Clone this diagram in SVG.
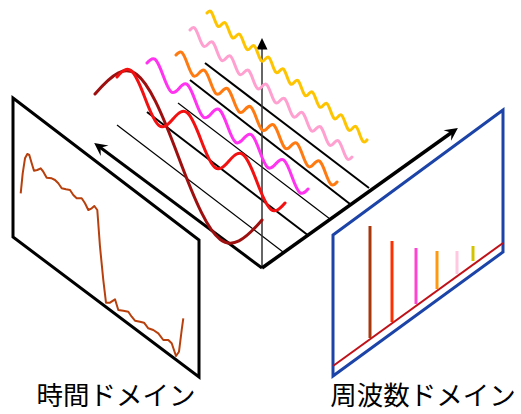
<svg xmlns="http://www.w3.org/2000/svg" width="521" height="414" viewBox="0 0 521 414">
<style>
.grid{stroke:#000;fill:none}
.thin{stroke-width:1.2}
.thick{stroke-width:2}
.wave{fill:none;stroke-width:3;stroke-linejoin:round;stroke-linecap:round}
.bar{stroke-width:3;fill:none}
.lbl{font-family:"Noto Sans CJK JP","Noto Sans",sans-serif;font-size:26.5px;fill:#000}
</style>
<defs>
<marker id="barb" viewBox="-14 -7 15 14" markerWidth="15" markerHeight="14" refX="-6" refY="0" orient="auto" markerUnits="userSpaceOnUse">
<path d="M0,0 L-13,-6.5 L-8,0 L-13,6.5 Z" fill="#000"/>
</marker>
</defs>
<rect width="521" height="414" fill="#fff"/>
<g id="connectors">
<line class="grid thin" x1="117" y1="125" x2="283" y2="252"/>
<line class="grid thick" x1="147" y1="112" x2="309" y2="236"/>
<line class="grid thin" x1="178" y1="103" x2="330" y2="219"/>
<line class="grid thick" x1="190" y1="80" x2="350" y2="204"/>
<line class="grid thick" x1="205" y1="63" x2="369" y2="188"/>
<line x1="262" y1="268" x2="262" y2="49" stroke="#333" stroke-width="1.5"/>
<polygon points="262,38 256.5,49.5 267.5,49.5" fill="#000"/>
<line x1="262" y1="268" x2="99" y2="146.5" stroke="#000" stroke-width="3" marker-end="url(#barb)"/>
<line x1="262" y1="268" x2="453" y2="131.5" stroke="#000" stroke-width="3.5" marker-end="url(#barb)"/>
</g>
<g id="waves">
<path class="wave" stroke="#ffc400" d="M207,13 c3.09,-3.68 4.19,-2.81 7.27,5.77 s4.19,9.45 7.27,5.77 s4.19,-2.81 7.27,5.77 s4.19,9.45 7.27,5.77 s4.19,-2.81 7.27,5.77 s4.19,9.45 7.27,5.77 s4.19,-2.81 7.27,5.77 s4.19,9.45 7.27,5.77 s4.19,-2.81 7.27,5.77 s4.19,9.45 7.27,5.77 s4.19,-2.81 7.27,5.77 s4.19,9.45 7.27,5.77 s4.19,-2.81 7.27,5.77 s4.19,9.45 7.27,5.77 s4.19,-2.81 7.27,5.77 s4.19,9.45 7.27,5.77 s4.19,-2.81 7.27,5.77 s4.19,9.45 7.27,5.77 s4.19,-2.81 7.27,5.77 s4.19,9.45 7.27,5.77 s4.19,-2.81 7.27,5.77 s4.19,9.45 7.27,5.77"/>
<path class="wave" stroke="#ffa0d0" d="M190,30 c3.82,-4.48 5.18,-3.41 9,7.06 s5.18,11.53 9,7.06 s5.18,-3.41 9,7.06 s5.18,11.53 9,7.06 s5.18,-3.41 9,7.06 s5.18,11.53 9,7.06 s5.18,-3.41 9,7.06 s5.18,11.53 9,7.06 s5.18,-3.41 9,7.06 s5.18,11.53 9,7.06 s5.18,-3.41 9,7.06 s5.18,11.53 9,7.06 s5.18,-3.41 9,7.06 s5.18,11.53 9,7.06 s5.18,-3.41 9,7.06 s5.18,11.53 9,7.06 s5.18,-3.41 9,7.06 s5.18,11.53 9,7.06"/>
<path class="wave" stroke="#ff7a10" d="M176,55 c4.88,-5.62 6.62,-4.25 11.5,9.07 s6.62,14.69 11.5,9.07 s6.62,-4.25 11.5,9.07 s6.62,14.69 11.5,9.07 s6.62,-4.25 11.5,9.07 s6.62,14.69 11.5,9.07 s6.62,-4.25 11.5,9.07 s6.62,14.69 11.5,9.07 s6.62,-4.25 11.5,9.07 s6.62,14.69 11.5,9.07 s6.62,-4.25 11.5,9.07 s6.62,14.69 11.5,9.07 s6.62,-4.25 11.5,9.07 s6.62,14.69 11.5,9.07"/>
<path class="wave" stroke="#ff33f0" d="M147,63 c6.83,-7.98 9.27,-6.08 16.1,12.6 s9.27,20.58 16.1,12.6 s9.27,-6.08 16.1,12.6 s9.27,20.58 16.1,12.6 s9.27,-6.08 16.1,12.6 s9.27,20.58 16.1,12.6 s9.27,-6.08 16.1,12.6 s9.27,20.58 16.1,12.6 s9.27,-6.08 16.1,12.6 s9.27,20.58 16.1,12.6"/>
<path class="wave" stroke="#9e1010" d="M95,94 c35.44,-41.3 48.06,-31.8 83.5,63 s48.06,104.3 83.5,63"/>
<path class="wave" stroke="#f21010" d="M117,77 c11.88,-13.76 16.12,-10.58 28,21 s16.12,34.76 28,21 s16.12,-10.58 28,21 s16.12,34.76 28,21 s16.12,-10.58 28,21 s16.12,34.76 28,21"/>
</g>
<g id="time-domain">
<polygon points="13,98 199,240 199,377 13,237" fill="none" stroke="#000" stroke-width="3" stroke-linejoin="miter"/>
<polyline fill="none" stroke="#b8400c" stroke-width="2" stroke-linejoin="round" points="20.7,193.3 22.7,173.3 25,158.3 27.3,154 29.3,155 31.7,163.3 34,170.7 37.3,170 40.7,168.3 43.3,171.7 46.7,177.7 51.7,178.3 55,180 58.3,183.3 61.7,188.3 66,189.3 70,190 73.3,195 76.7,198.3 81.7,198.3 85,203.3 88.3,210 91.7,208.3 94.3,206 97.3,210 100,246.7 103.3,280 106,302.7 110,302.7 115,299.3 118.3,310 123.3,310.7 128.3,311.7 131.7,316.7 135,320.7 140,321.7 144,322.7 148.3,328.3 153.3,330 158.3,333.3 163.3,340 168.3,340 171.7,343.3 176,356 179,351.7 181.7,330 183.3,318.3"/>
</g>
<g id="frequency-domain">
<polygon points="333,235 503,110 503,252 333,376" fill="none" stroke="#1c44a8" stroke-width="3"/>
<line x1="333" y1="366" x2="503" y2="243" stroke="#c01018" stroke-width="2"/>
<line class="bar" stroke="#a8380c" x1="370" y1="226" x2="370" y2="338"/>
<line class="bar" stroke="#ff3000" x1="392" y1="241" x2="392" y2="322"/>
<line class="bar" stroke="#ff44d0" x1="416" y1="248" x2="416" y2="304" stroke-width="2.5"/>
<line class="bar" stroke="#ff9a10" x1="437" y1="251" x2="437" y2="289"/>
<line class="bar" stroke="#ffc8e0" x1="457" y1="251" x2="457" y2="274" stroke-width="2.5"/>
<line class="bar" stroke="#d4c400" x1="473" y1="246" x2="473" y2="261"/>
</g>
<g id="labels">
<text class="lbl" x="116" y="405" text-anchor="middle">時間ドメイン</text>
<text class="lbl" x="423" y="405" text-anchor="middle">周波数ドメイン</text>
</g>
</svg>
